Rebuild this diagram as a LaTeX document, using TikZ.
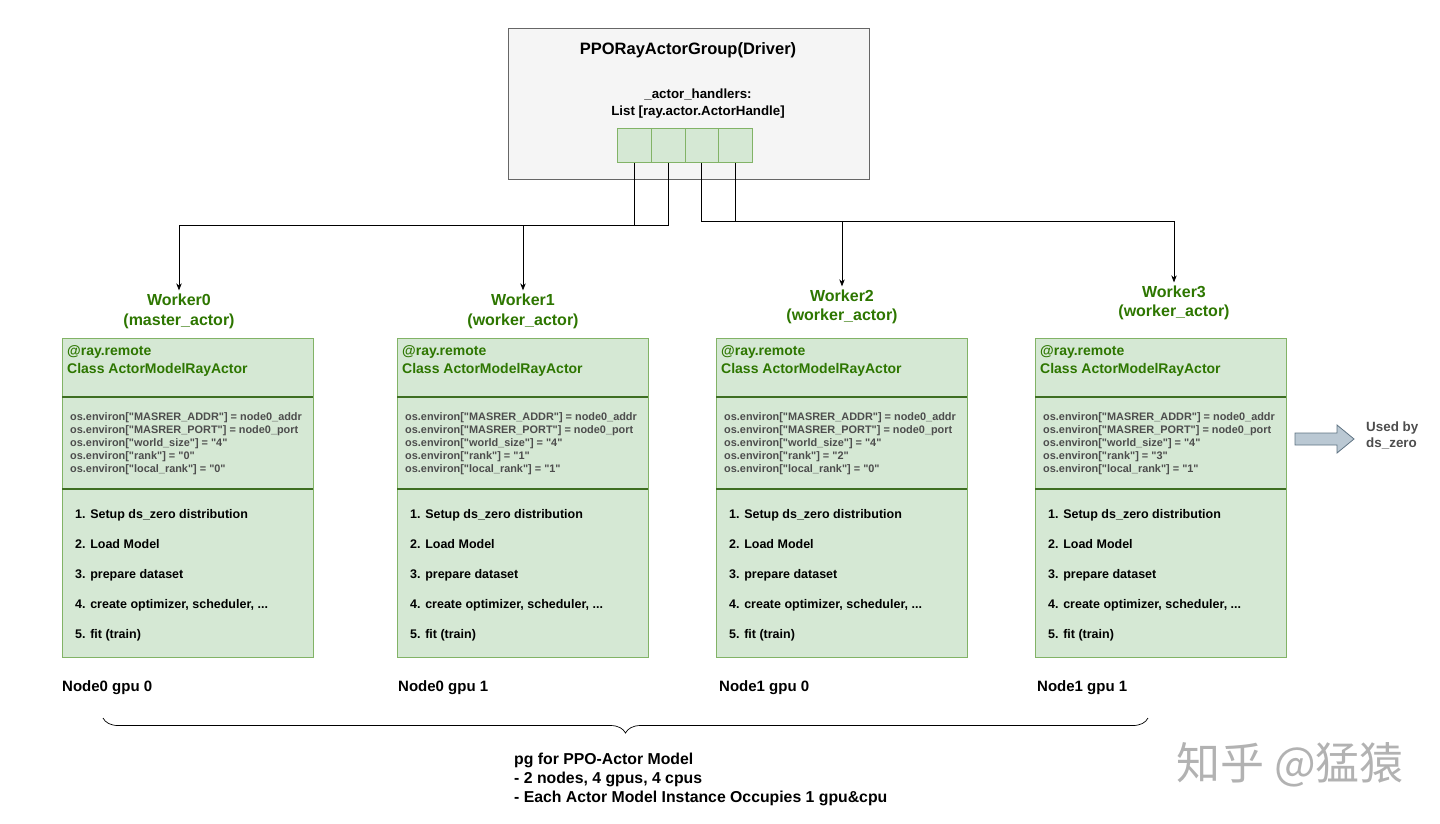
\documentclass[tikz,border=0pt]{standalone}
\usepackage{fontspec}
\setmainfont{Liberation Sans}[Ligatures=TeXOff]
\newfontfamily\cjk{Noto Sans CJK SC}
\usetikzlibrary{arrows.meta}
\usetikzlibrary{decorations.pathreplacing}

\definecolor{greenfill}{HTML}{D5E8D4}
\definecolor{greenline}{HTML}{82B366}
\definecolor{greentext}{HTML}{2D7600}
\definecolor{greendiv}{HTML}{3E6E22}
\definecolor{drvfill}{HTML}{F5F5F5}
\definecolor{drvline}{HTML}{666666}
\definecolor{envgray}{HTML}{4D4D4D}
\definecolor{blkfill}{HTML}{BAC8D3}
\definecolor{blkline}{HTML}{5F7383}

\tikzset{
  driverbox/.style={draw=drvline, fill=drvfill, line width=0.8pt, inner sep=0pt},
  cell/.style={draw=greenline, fill=greenfill, line width=0.8pt, inner sep=0pt,
    minimum width=33.75pt, minimum height=34pt},
  workerbox/.style={draw=greenline, fill=greenfill, line width=0.8pt, inner sep=0pt,
    minimum width=251pt, minimum height=319pt},
  divider/.style={draw=greendiv, line width=1.8pt},
  wlabel/.style={align=center, text=greentext, inner ysep=3pt,
    font={\fontsize{16}{20}\selectfont\bfseries}},
  headtext/.style={align=left, text=greentext, inner sep=0pt,
    font={\fontsize{14}{18}\selectfont\bfseries}},
  envtext/.style={align=left, text=envgray, inner sep=0pt,
    font={\fontsize{10.9}{13}\selectfont\bfseries}},
  steptext/.style={align=left, inner sep=0pt,
    font={\fontsize{12.5}{30}\selectfont\bfseries}},
  hosttext/.style={inner sep=0pt, font={\fontsize{15}{18}\selectfont\bfseries}},
  wire/.style={draw=black, line width=0.7pt},
  arrow/.style={wire, -{Stealth[length=7pt, width=5.5pt]}}
}

\begin{document}
\begin{tikzpicture}[x=1pt, y=-1pt]
  \useasboundingbox (0,0) rectangle (1440,823);

  % driver
  \node[driverbox, anchor=north west, minimum width=361pt, minimum height=151pt] (driver) at (508,28) {};
  \node[inner sep=0pt, font={\fontsize{16.5}{20}\selectfont\bfseries}] (title) at (688,50) {PPORayActorGroup(Driver)};
  \node[align=center, inner sep=0pt, font={\fontsize{13.3}{17}\selectfont\bfseries}] (handlers) at (698,104)
    {\_actor\_handlers:\\List [ray.actor.ActorHandle]};
  \foreach \k in {0,...,3}
    \node[cell, anchor=north west] (h\k) at (617+\k*33.75,128) {};

  % workers
  \foreach \i/\bx/\ax/\lc/\sp/\role/\rank/\lrank in {
      0/62/179/311/20/master/0/0,
      1/397/523/311/20/worker/1/1,
      2/716/842/306.5/19/worker/2/0,
      3/1035/1174/302.5/19/worker/3/1} {
    \node[wlabel, font={\fontsize{16}{\sp}\selectfont\bfseries}] (lab\i) at (\ax,\lc) {Worker\i\\(\role\_actor)};
    \node[workerbox, anchor=north west] (w\i) at (\bx,338) {};
    \draw[divider] (\bx,397) -- ++(251,0);
    \draw[divider] (\bx,489) -- ++(251,0);
    \node[headtext, anchor=west] (head\i) at (\bx+5,361) {@ray.remote\\Class ActorModelRayActor};
    \node[envtext, anchor=west] (env\i) at (\bx+8,444)
      {os.environ["MASRER\_ADDR"] = node0\_addr\\
       os.environ["MASRER\_PORT"] = node0\_port\\
       os.environ["world\_size"] = "4"\\
       os.environ["rank"] = "\rank"\\
       os.environ["local\_rank"] = "\lrank"};
    \node[steptext, anchor=west] (steps\i) at (\bx+13,575)
      {1. Setup ds\_zero distribution\\
       2. Load Model\\
       3. prepare dataset\\
       4. create optimizer, scheduler, ...\\
       5. fit (train)};
  }
  \node[hosttext, anchor=west] (host0) at (62,688) {Node0 gpu 0};
  \node[hosttext, anchor=west] (host1) at (398,688) {Node0 gpu 1};
  \node[hosttext, anchor=west] (host2) at (719,688) {Node1 gpu 0};
  \node[hosttext, anchor=west] (host3) at (1037,688) {Node1 gpu 1};

  % handles to workers
  \coordinate (busL) at (179,225);
  \coordinate (busR) at (1174,221);
  \draw[arrow] (h0.south) |- (busL) -- (lab0.north);
  \draw[wire] (h1.south) |- (h0.south |- busL);
  \draw[arrow] (lab1.north |- busL) -- (lab1.north);
  \draw[arrow] (h3.south) |- (busR) -- (lab3.north);
  \draw[wire] (h2.south) |- (h3.south |- busR);
  \draw[arrow] (lab2.north |- busR) -- (lab2.north);

  % used by ds_zero
  \draw[draw=blkline, fill=blkfill, line width=0.8pt]
    (1295,433) -- (1337,433) -- (1337,425) -- (1354,439) -- (1337,453) -- (1337,445) -- (1295,445) -- cycle;
  \node[align=left, anchor=west, inner sep=0pt, text=envgray, font={\fontsize{13.4}{16}\selectfont\bfseries}] (usedby) at (1366,435)
    {Used by\\ds\_zero};

  % placement group
  \coordinate (braceR) at (1148,718);
  \coordinate (braceL) at (103,718);
  \draw[wire, decorate, decoration={brace, amplitude=15pt}] (braceR) -- (braceL);
  \node[align=left, anchor=west, inner sep=0pt, font={\fontsize{15.8}{19}\selectfont\bfseries}] (pgnote) at (514,779)
    {pg for PPO-Actor Model\\
     - 2 nodes, 4 gpus, 4 cpus\\
     - Each Actor Model Instance Occupies 1 gpu\&cpu};

  \node[inner sep=0pt, text=black!30, font={\cjk\fontsize{44}{48}\selectfont}] (watermark) at (1290,765) {知乎 @猛猿};
\end{tikzpicture}
\end{document}
